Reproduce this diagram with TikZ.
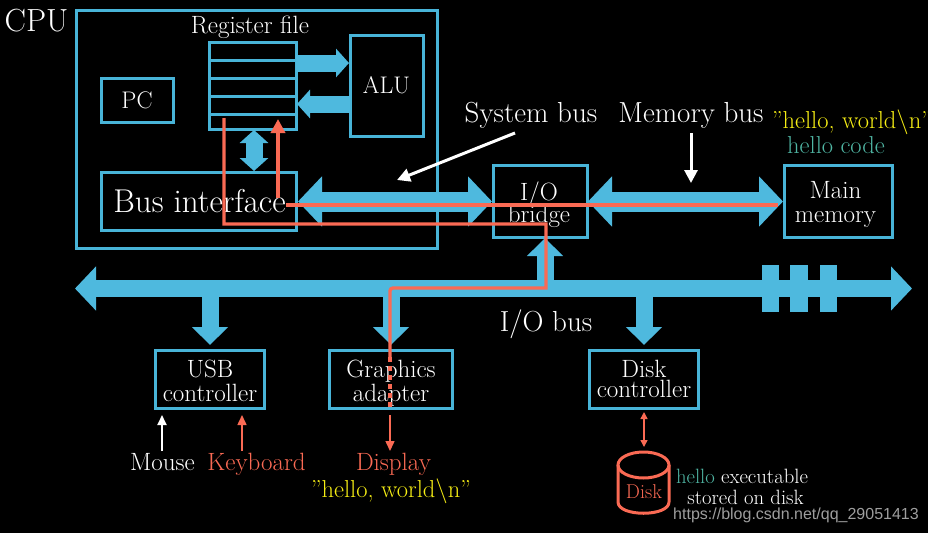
\documentclass[tikz,border=0pt]{standalone}
\usepackage{fontspec}
\newfontfamily\wmfont{Liberation Sans}
\usetikzlibrary{arrows.meta}
\definecolor{busblue}{HTML}{4EB9DE}
\definecolor{boxblue}{HTML}{48B4D8}
\definecolor{hotred}{HTML}{FA6A54}
\definecolor{codeyellow}{HTML}{F6EE14}
\definecolor{codeteal}{HTML}{4FB5A3}
\newcommand{\fsz}[1]{\fontsize{#1}{#1}\selectfont}
\tikzset{
  box/.style={draw=boxblue,line width=3pt,fill=black,rectangle,inner sep=0pt,outer sep=0pt,text=white,align=center},
  txt/.style={text=white,inner sep=0pt,outer sep=0pt,align=center,anchor=base},
  smallbus/.style={busblue,line width=17pt,-{Triangle[length=13pt,width=28pt]}},
  dblsmall/.style={busblue,line width=17pt,{Triangle[length=13pt,width=28pt]}-{Triangle[length=13pt,width=28pt]}},
  bigbus/.style={busblue,line width=20pt,{Triangle[length=24pt,width=49pt]}-{Triangle[length=24pt,width=49pt]}},
  iobus/.style={busblue,line width=17pt,{Triangle[length=21pt,width=43pt]}-{Triangle[length=21pt,width=43pt]}},
  drop/.style={busblue,line width=17pt,-{Triangle[length=18pt,width=35pt]}},
  redpath/.style={hotred,line width=3.4pt},
  thinred/.style={hotred,line width=1.5pt,-{Triangle[length=10pt,width=9pt]}},
  thinwhite/.style={white,line width=1.8pt,-{Triangle[length=10pt,width=9pt]}},
  callout/.style={white,line width=3pt,-{Triangle[length=13pt,width=13pt]}},
}
\begin{document}
\begin{tikzpicture}[x=1pt,y=-1pt]
\useasboundingbox (0,0) rectangle (928,533);
\fill[black] (0,0) rectangle (928,533);

% boxes
\node[box,minimum width=361pt,minimum height=238pt] (cpu) at (256.5,129) {};
\node[box,minimum width=87pt,minimum height=18pt] (r1) at (252.5,51) {};
\node[box,minimum width=87pt,minimum height=18pt] (r2) at (252.5,69) {};
\node[box,minimum width=87pt,minimum height=18pt] (r3) at (252.5,87) {};
\node[box,minimum width=87pt,minimum height=18pt] (r4) at (252.5,105) {};
\node[box,minimum width=87pt,minimum height=15pt] (r5) at (252.5,121.5) {};
\node[box,minimum width=73pt,minimum height=101pt] (alu) at (386.5,85.5) {};
\node[box,minimum width=72pt,minimum height=44pt] (pc) at (137,100) {};
\node[box,minimum width=195pt,minimum height=58pt] (bif) at (198.5,201) {};
\node[box,minimum width=94pt,minimum height=72pt] (bridge) at (540,201) {};
\node[box,minimum width=108pt,minimum height=72pt] (mem) at (838,201) {};
\node[box,minimum width=109pt,minimum height=58pt] (usb) at (209.5,379) {};
\node[box,minimum width=123pt,minimum height=58pt] (gfx) at (390.5,379) {};
\node[box,minimum width=109pt,minimum height=58pt] (dc) at (643.5,379) {};

% bus ports
\coordinate (r2e) at (296,63);
\coordinate (alue) at (349,63);
\coordinate (aluw) at (350,104);
\coordinate (r4e) at (297,104);
\coordinate (r5s) at (254,130);
\coordinate (bifn) at (254,171);
\coordinate (bife) at (298,201.5);
\coordinate (brw) at (492,201.5);
\coordinate (bre) at (588,201.5);
\coordinate (memw) at (783,201.5);
\coordinate (ioL) at (75,288.5);
\coordinate (ioR) at (912,288.5);
\coordinate (brs) at (545,238);
\coordinate (brb) at (545,281);
\coordinate (usbt) at (210,296);
\coordinate (usbh) at (210,345);
\coordinate (gfxt) at (391,296);
\coordinate (gfxh) at (391,345);
\coordinate (dct) at (644,296);
\coordinate (dch) at (644,345);

\draw[smallbus] (r2e) -- (alue);
\draw[smallbus] (aluw) -- (r4e);
\draw[dblsmall] (r5s) -- (bifn);
\draw[bigbus] (bife) -- (brw);
\draw[bigbus] (bre) -- (memw);
\draw[iobus] (ioL) -- (ioR);
\draw[drop] (brb) -- (brs);
\draw[drop] (usbt) -- (usbh);
\draw[drop] (gfxt) -- (gfxh);
\draw[drop] (dct) -- (dch);
\fill[busblue] (762,265) rectangle (779,312);
\fill[busblue] (790,265) rectangle (808,312);
\fill[busblue] (820,265) rectangle (837,312);

% disk
\draw[hotred,line width=3pt] (643.5,465) ellipse [x radius=25.5pt,y radius=13pt];
\draw[hotred,line width=3pt] (618,465) -- (618,502) .. controls (618,517) and (669,517) .. (669,502) -- (669,465);

% texts
\node[txt,font=\fsz{32}] (cputxt) at (36.5,31) {CPU};
\node[txt,font=\fsz{25}] (regtxt) at (250,33) {Register file};
\node[txt,font=\fsz{24}] (alutxt) at (386.5,93) {ALU};
\node[txt,font=\fsz{24}] (pctxt) at (137,108) {PC};
\node[txt,font=\fsz{33}] (biftxt) at (199.5,212) {Bus interface};
\node[txt,font=\fsz{29}] (systxt) at (531,122) {System bus};
\node[txt,font=\fsz{29}] (memtxt) at (691,122) {Memory bus};
\node[txt,font=\fsz{24.5},text=codeyellow] (hw1) at (852,128) {”hello, world$\backslash$n”};
\node[txt,font=\fsz{24.5},text=codeteal] (hcode) at (836,153) {hello code};
\node[txt,font=\fsz{25}] (main1) at (835.5,198) {Main};
\node[txt,font=\fsz{25}] (main2) at (835.5,222) {memory};
\node[txt,font=\fsz{25}] (io1) at (539,200) {I/O};
\node[txt,font=\fsz{25}] (io2) at (539,222) {bridge};
\node[txt,font=\fsz{29}] (iobtxt) at (546,331) {I/O bus};
\node[txt,font=\fsz{25}] (usb1) at (210,377) {USB};
\node[txt,font=\fsz{25}] (usb2) at (210,401) {controller};
\node[txt,font=\fsz{25}] (gfx1) at (391,377) {Graphics};
\node[txt,font=\fsz{25}] (gfx2) at (391,401) {adapter};
\node[txt,font=\fsz{25}] (dc1) at (644,377) {Disk};
\node[txt,font=\fsz{25}] (dc2) at (644,397) {controller};
\node[txt,font=\fsz{25}] (mouse) at (162.5,470) {Mouse};
\node[txt,font=\fsz{25},text=hotred] (kbd) at (256.5,470) {Keyboard};
\node[txt,font=\fsz{25},text=hotred] (disp) at (393.5,470) {Display};
\node[txt,font=\fsz{24.5},text=codeyellow] (hw2) at (391,497) {”hello, world$\backslash$n”};
\node[txt,font=\fsz{20},text=hotred] (disktxt) at (644,498) {Disk};
\node[txt,font=\fsz{20.7}] (exe1) at (742,483) {{\color{codeteal}hello} executable};
\node[txt,font=\fsz{20.7}] (exe2) at (745.5,504) {stored on disk};
\node[txt,font=\wmfont\fsz{16},text=white!62!black] (wm) at (796,519) {https://blog.csdn.net/qq\_29051413};

% white callouts
\coordinate (sysa) at (515,133);
\coordinate (sysb) at (397,180);
\coordinate (mema) at (691,133);
\coordinate (memb) at (691,183);
\draw[callout] (sysa) -- (sysb);
\draw[callout] (mema) -- (memb);

% thin arrows
\coordinate (mouset) at (162,451);
\coordinate (mouseh) at (162,415);
\coordinate (kbdt) at (242,451);
\coordinate (kbdh) at (242,415);
\coordinate (gfxo) at (390,415);
\coordinate (dispi) at (390,451);
\coordinate (dco) at (644,412);
\coordinate (diski) at (644,447);
\draw[thinwhite] (mouset) -- (mouseh);
\draw[thinred] (kbdt) -- (kbdh);
\draw[thinred] (gfxo) -- (dispi);
\draw[thinred,{Triangle[length=7pt,width=7pt]}-{Triangle[length=7pt,width=7pt]}] (dco) -- (diski);

% red flow
\coordinate (rmem) at (778,205);
\coordinate (rbif) at (286,205);
\coordinate (rup) at (278,198);
\coordinate (rreg) at (278,119);
\coordinate (ra) at (224,118);
\coordinate (rb) at (224,224);
\coordinate (rc) at (546,224);
\coordinate (rd) at (546,288);
\coordinate (re) at (390,288);
\coordinate (rf) at (390,357);
\coordinate (rg) at (390,408);
\draw[redpath] (rmem) -- (rbif);
\draw[redpath,-{Triangle[length=14pt,width=14pt]}] (rup) -- (rreg);
\draw[redpath,line join=miter] (ra) -- (rb) -- (rc) -- (rd) [rounded corners=3pt] -- (re) [sharp corners] -- (rf);
\draw[redpath,dash pattern=on 5pt off 4pt] (rf) -- (rg);
\end{tikzpicture}
\end{document}
